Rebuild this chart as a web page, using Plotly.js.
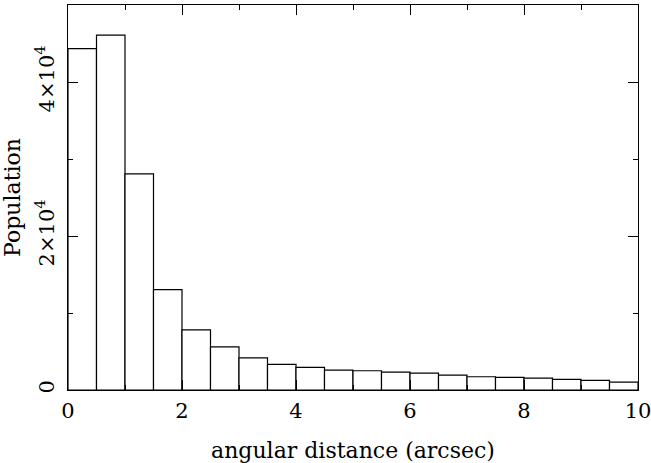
<!DOCTYPE html>
<html>
<head>
<meta charset="utf-8">
<script src="https://cdn.plot.ly/plotly-3.0.1.min.js"></script>
<style>html,body{margin:0;padding:0;background:#fff;}#chart{width:651px;height:463px;}</style>
</head>
<body>
<div id="chart"></div>
<script>
var binEdges = [0,0.5,1,1.5,2,2.5,3,3.5,4,4.5,5,5.5,6,6.5,7,7.5,8,8.5,9,9.5,10];
var population = [44330,46090,28070,13030,7800,5600,4180,3320,2940,2590,2500,2330,2200,1940,1720,1640,1550,1380,1250,1035];
var xTickVals = [0,2,4,6,8,10];
var yTickVals = [0,20000,40000];
var yTickText = ["0","2×10<sup>4</sup>","4×10<sup>4</sup>"];

var centers = [], widths = [];
for (var i = 0; i < population.length; i++) {
  centers.push((binEdges[i] + binEdges[i+1]) / 2);
  widths.push(binEdges[i+1] - binEdges[i]);
}

var font = {family: "DejaVu Serif", size: 21, color: "#000"};
var titleFont = {family: "DejaVu Serif", size: 22, color: "#000"};

var trace = {
  type: "bar",
  x: centers,
  y: population,
  width: widths,
  marker: {color: "#fff", line: {color: "#000", width: 1.2}},
  hoverinfo: "none"
};

var layout = {
  width: 651, height: 463,
  margin: {l: 68, r: 13, t: 5, b: 73},
  paper_bgcolor: "#fff", plot_bgcolor: "#fff",
  showlegend: false,
  bargap: 0,
  font: font,
  xaxis: {
    range: [0, 10],
    tickvals: xTickVals,
    ticktext: xTickVals.map(String),
    ticks: "inside", ticklen: 10, tickwidth: 1, tickcolor: "#000",
    minor: {dtick: 1, ticks: "inside", ticklen: 5, tickwidth: 1, tickcolor: "#000"},
    showline: true, linecolor: "#000", linewidth: 1, mirror: "allticks",
    showgrid: false, zeroline: false,
    tickfont: font,
    ticklabelstandoff: 2,
    ticklabeloverflow: "allow",
    title: {text: "angular distance (arcsec)", font: titleFont, standoff: 22}
  },
  yaxis: {
    range: [0, 50000],
    tickvals: yTickVals,
    ticktext: yTickText,
    tickangle: -90,
    ticks: "inside", ticklen: 10, tickwidth: 1, tickcolor: "#000",
    minor: {dtick: 10000, ticks: "inside", ticklen: 5, tickwidth: 1, tickcolor: "#000"},
    showline: true, linecolor: "#000", linewidth: 1, mirror: "allticks",
    showgrid: false, zeroline: false,
    tickfont: font,
    ticklabelstandoff: 5,
    ticklabeloverflow: "allow",
    title: {text: "Population", font: titleFont, standoff: 6}
  }
};

Plotly.newPlot("chart", [trace], layout, {displayModeBar: false, staticPlot: true});
</script>
</body>
</html>
